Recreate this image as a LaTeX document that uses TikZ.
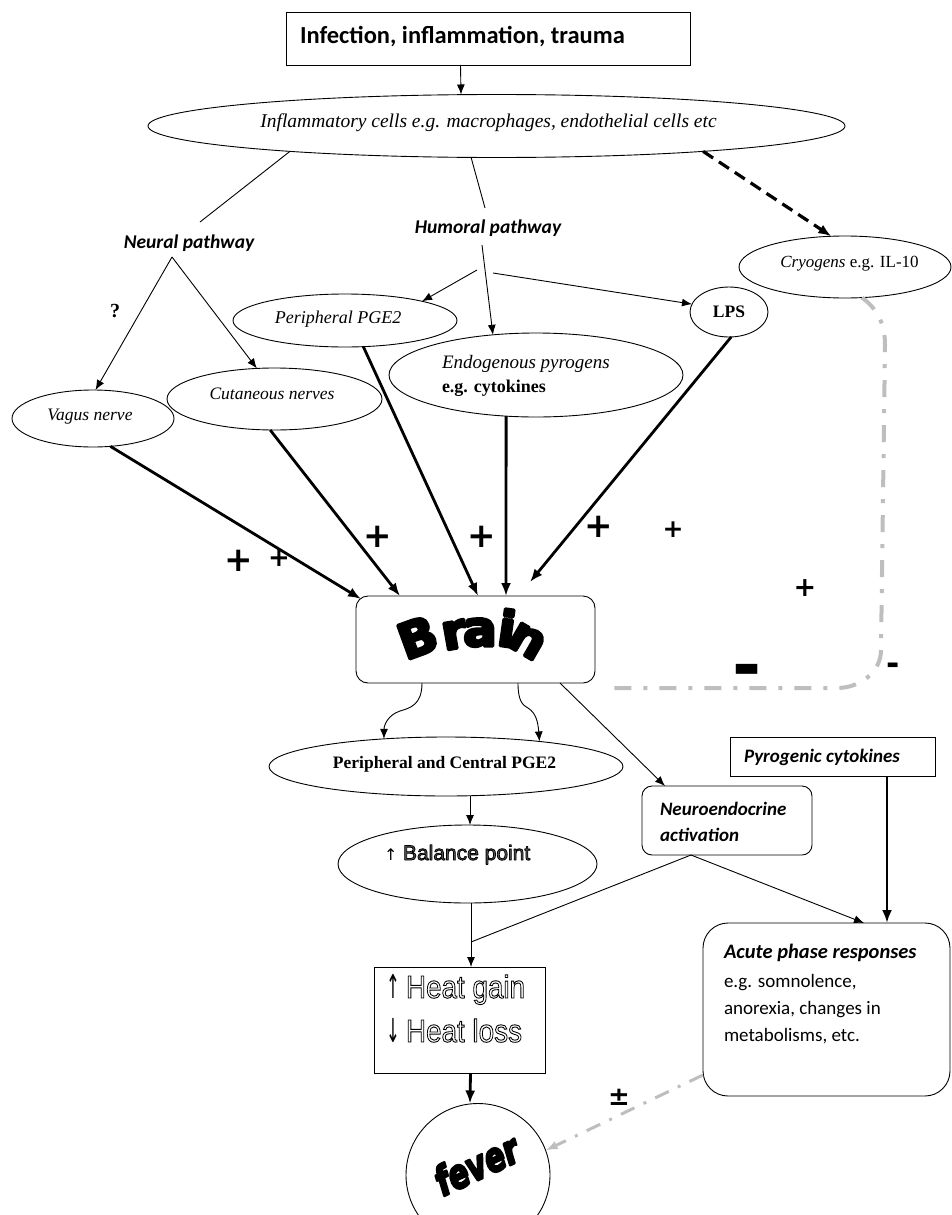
\documentclass[tikz,border=0pt]{standalone}
\usepackage{fontspec}
\setmainfont{Liberation Serif}
\newfontfamily\carl{Carlito}
\newfontfamily\arialf{Liberation Sans}
\newfontfamily\dvs{DejaVu Sans}
\usetikzlibrary{arrows.meta,shapes.geometric,calc}
\definecolor{lgray}{RGB}{190,190,190}
\newcommand{\fsz}[1]{\fontsize{#1}{#1}\selectfont}
\newcommand{\outl}[1]{\special{pdf:literal direct 0 G 1 Tr 0.9 w}#1\special{pdf:literal direct 0 Tr}}
\newcommand{\heavy}[3]{\special{pdf:literal direct #1 g 0 G 2 Tr #2 w 1 j}#3\special{pdf:literal direct 0 Tr}}
\newcommand{\bl}[1]{\scalebox{1.02}[1]{\heavy{0}{3}{#1}}}
\begin{document}
\begin{tikzpicture}[x=1pt,y=-1pt,
  ell/.style={draw,ellipse,inner sep=0pt,outer sep=0pt,line width=0.9pt},
  box/.style={draw,rectangle,inner sep=0pt,outer sep=0pt,line width=0.9pt},
  rbox/.style={box,rounded corners=#1},
  txt/.style={inner sep=0pt,outer sep=0pt,anchor=base},
  tline/.style={line width=0.9pt},
  tarr/.style={line width=0.9pt,-{Latex[length=10pt,width=8pt]}},
  karr/.style={line width=2.8pt,-{Latex[length=13pt,width=10pt]}},
  sign/.style={inner sep=0pt,outer sep=0pt,anchor=center},
  brainf/.style={txt,font=\dvs\bfseries\fsz{49}},
  graydd/.style={draw=lgray,line width=4pt,dash pattern=on 17pt off 12pt on 4pt off 12pt},
  graydd2/.style={draw=lgray,line width=3pt,dash pattern=on 15pt off 10pt on 3pt off 10pt,-{Latex[length=12pt,width=9pt,fill=lgray]}}
]
\useasboundingbox (0,0) rectangle (951,1215);
\fill[white] (0,0) rectangle (951,1215);

% top
\node[box,minimum width=404pt,minimum height=53pt] (top) at (488,38.5) {};
\node[txt,anchor=base west,font=\carl\bfseries\fsz{24.5}] (toptxt) at (300,44) {Infection, inflammation, trauma};
\node[ell,minimum width=697pt,minimum height=63pt] (infl) at (496.5,126) {};
\node[txt,font=\itshape\fsz{19.5}] (infltxt) at (488.5,127) {Inflammatory cells e.g. macrophages, endothelial cells etc};

\node[txt,font=\carl\bfseries\itshape\fsz{19.5}] (neural) at (189,248) {Neural pathway};
\node[txt,font=\carl\bfseries\itshape\fsz{19.5}] (humoral) at (488,233) {Humoral pathway};
\node[txt,font=\bfseries\fsz{20}] (q) at (115,317) {?};

\node[ell,minimum width=224pt,minimum height=53pt] (ppge) at (345,320.5) {};
\node[txt,font=\itshape\fsz{18}] (ppgetxt) at (338,323) {Peripheral PGE2};
\node[ell,minimum width=215pt,minimum height=62pt] (cut) at (274.5,399) {};
\node[txt,font=\itshape\fsz{17.5}] (cuttxt) at (272,399.5) {Cutaneous nerves};
\node[ell,minimum width=162pt,minimum height=57pt] (vagus) at (93,418.5) {};
\node[txt,font=\itshape\fsz{17.5}] (vagustxt) at (90,420) {Vagus nerve};
\node[ell,minimum width=294pt,minimum height=84pt] (endo) at (536,375) {};
\node[txt,anchor=base west,font=\itshape\fsz{19}] (endotxt1) at (442,368) {Endogenous pyrogens};
\node[txt,anchor=base west,font=\bfseries\fsz{18}] (endotxt2) at (442,392) {e.g. cytokines};
\node[ell,minimum width=78pt,minimum height=50pt] (lps) at (729,312) {};
\node[txt,font=\bfseries\fsz{17.5}] (lpstxt) at (729,317) {LPS};
\node[ell,minimum width=212pt,minimum height=62pt] (cryo) at (845,267) {};
\node[txt,font=\fsz{17}] (cryotxt) at (849.5,267) {\textit{Cryogens} e.g. IL-10};

% brain
\node[rbox=12pt,minimum width=239pt,minimum height=87pt] (brain) at (475.5,639.5) {};
\node[brainf,rotate=20] (b1) at (423.5,654) {\bl{B}};
\node[brainf,rotate=10] (b2) at (456.5,648.3) {\bl{r}};
\node[brainf,rotate=0] (b3) at (480,646) {\bl{a}};
\node[brainf,rotate=-8] (b4) at (504.5,646.3) {\bl{i}};
\node[brainf,rotate=-30] (b5) at (520,653) {\bl{n}};

% signs
\node[sign,font=\dvs\bfseries\fsz{34}] (p1) at (239,561) {+};
\node[sign,font=\dvs\bfseries\fsz{26}] (p2) at (279,558) {+};
\node[sign,font=\dvs\bfseries\fsz{34}] (p3) at (378,537) {+};
\node[sign,font=\dvs\bfseries\fsz{34}] (p4) at (482,537) {+};
\node[sign,font=\dvs\bfseries\fsz{34}] (p5) at (599,527) {+};
\node[sign,font=\dvs\bfseries\fsz{25}] (p6) at (673,530) {+};
\node[sign,font=\dvs\bfseries\fsz{27}] (p7) at (805,588) {+};
\node[sign,font=\dvs\bfseries\fsz{70}] (m1) at (747.5,677) {-};
\node[sign,font=\dvs\bfseries\fsz{32}] (m2) at (893,669) {-};
\node[sign,font=\dvs\bfseries\fsz{26}] (pm) at (619,1097) {±};

% lower part
\node[ell,minimum width=354pt,minimum height=59pt] (pcpge) at (446,766.5) {};
\node[txt,font=\bfseries\fsz{17.5}] (pcpgetxt) at (444.5,768) {Peripheral and Central PGE2};
\node[ell,minimum width=259pt,minimum height=78pt] (bal) at (467.5,864) {};
\node[txt,anchor=base west,font=\dvs\fsz{16}] (balarr) at (384,860) {↑};
\node[txt,anchor=base west,font=\arialf\fsz{21}] (baltxt) at (403,860) {\heavy{0.35}{0.8}{Balance point}};
\node[box,minimum width=171pt,minimum height=106pt] (heat) at (459.5,1020) {};
\node[txt,anchor=base west,font=\dvs\fsz{33}] (heat1a) at (386,998) {\scalebox{0.5}[1]{↑}};
\node[txt,anchor=base west,font=\arialf\fsz{32}] (heat1) at (406,998) {\scalebox{0.87}[1]{\outl{Heat gain}}};
\node[txt,anchor=base west,font=\dvs\fsz{33}] (heat2a) at (386,1042) {\scalebox{0.5}[1]{↓}};
\node[txt,anchor=base west,font=\arialf\fsz{32}] (heat2) at (406,1042) {\scalebox{0.87}[1]{\outl{Heat loss}}};
\node[ell,minimum width=144pt,minimum height=143pt] (fever) at (478,1175) {};
\node[txt,rotate=25,font=\dvs\bfseries\itshape\fsz{40}] (fevertxt) at (482.6,1178) {\scalebox{0.75}[1]{\heavy{0}{2.6}{fever}}};

\node[box,minimum width=205pt,minimum height=39pt] (pyro) at (832.5,756.5) {};
\node[txt,anchor=base west,font=\carl\bfseries\itshape\fsz{19}] (pyrotxt) at (744,762) {Pyrogenic cytokines};
\node[rbox=10pt,minimum width=170pt,minimum height=69pt] (neuro) at (727,820.5) {};
\node[txt,anchor=base west,font=\carl\bfseries\itshape\fsz{19}] (neurotxt1) at (660,815) {Neuroendocrine};
\node[txt,anchor=base west,font=\carl\bfseries\itshape\fsz{19}] (neurotxt2) at (660,841) {activation};
\node[rbox=25pt,minimum width=247pt,minimum height=173pt] (acute) at (826.5,1009.5) {};
\node[txt,anchor=base west,font=\carl\bfseries\itshape\fsz{20.5}] (ac1) at (724,958) {Acute phase responses};
\node[txt,anchor=base west,font=\carl\fsz{19}] (ac2) at (724,987) {e.g. somnolence,};
\node[txt,anchor=base west,font=\carl\fsz{19}] (ac3) at (724,1014) {anorexia, changes in};
\node[txt,anchor=base west,font=\carl\fsz{19}] (ac4) at (724,1041) {metabolisms, etc.};

% connectors top
\draw[tarr] ([xshift=-27.5pt]top.south) -- ([xshift=-35.5pt]infl.north);
\draw[tline] (infl.187) -- ([xshift=11pt,yshift=26pt]neural.base);
\draw[tline] (infl.-129.6) -- ([xshift=-3pt,yshift=25pt]humoral.base);
\draw[tarr] ([xshift=-17pt,yshift=-9pt]neural.base) -- (vagus.85);
\draw[tarr] ([xshift=-17pt,yshift=-9pt]neural.base) -- (cut.120);
\draw[tarr] ([xshift=-6pt,yshift=-12pt]humoral.base) -- (endo.137);
\draw[tarr] ([xshift=-11pt,yshift=-37pt]humoral.base) -- (ppge.14);
\draw[tarr] ([xshift=5pt,yshift=-40pt]humoral.base) -- (lps.168);
\draw[line width=3.2pt,dash pattern=on 12pt off 7pt,-{Latex[length=13pt,width=10pt]}] (infl.-7.6) -- (cryo.114.5);

\coordinate (negend) at (610,688);
\draw[graydd] (cryo.-61) .. controls (876,308) and (885,322) .. (885,345) -- (881,650) .. controls (881,672) and (860,688) .. (837,688) -- (negend);

% into brain
\draw[karr] (vagus.-58.6) -- ([xshift=5pt,yshift=-3pt]brain.north west);
\draw[karr] (cut.-98.3) -- ([xshift=44pt]brain.north west);
\draw[karr] (ppge.-55.5) -- ([xshift=2.5pt]brain.north);
\draw[karr] (endo.-126.1) -- ([xshift=30.5pt]brain.north);
\draw[karr] (lps.-85) -- ([xshift=54.5pt,yshift=14pt]brain.north);

% out of brain
\draw[tarr] ([xshift=-53.5pt]brain.south) .. controls (422,705) and (410,708) .. (400,711) .. controls (388,715) and (384,725) .. (pcpge.156.4);
\draw[tarr] ([xshift=42.5pt]brain.south) .. controls (518,700) and (522,705) .. (528,708) .. controls (536,713) and (538,722) .. (pcpge.15.3);
\draw[tarr] ([xshift=84.5pt]brain.south) -- ([xshift=23pt]neuro.north west);

\draw[tarr] ([xshift=24pt]pcpge.south) -- ([xshift=2.5pt]bal.north);
\coordinate (junc) at (471,942);
\draw[tline] ([xshift=3.5pt]bal.south) -- (junc);
\draw[tline] ([xshift=-36pt]neuro.south) -- (junc);
\draw[tarr] (junc) -- ([xshift=11.5pt]heat.north);
\draw[tarr] ([xshift=-36pt]neuro.south) -- ([xshift=37.5pt]acute.north);
\draw[karr] ([xshift=54.5pt]pyro.south) -- ([xshift=60.5pt]acute.north);
\draw[karr] ([xshift=11pt]heat.south) -- ([xshift=-8pt]fever.north);
\draw[graydd2] ([yshift=-65.5pt]acute.west) -- (fever.20);
\end{tikzpicture}
\end{document}
